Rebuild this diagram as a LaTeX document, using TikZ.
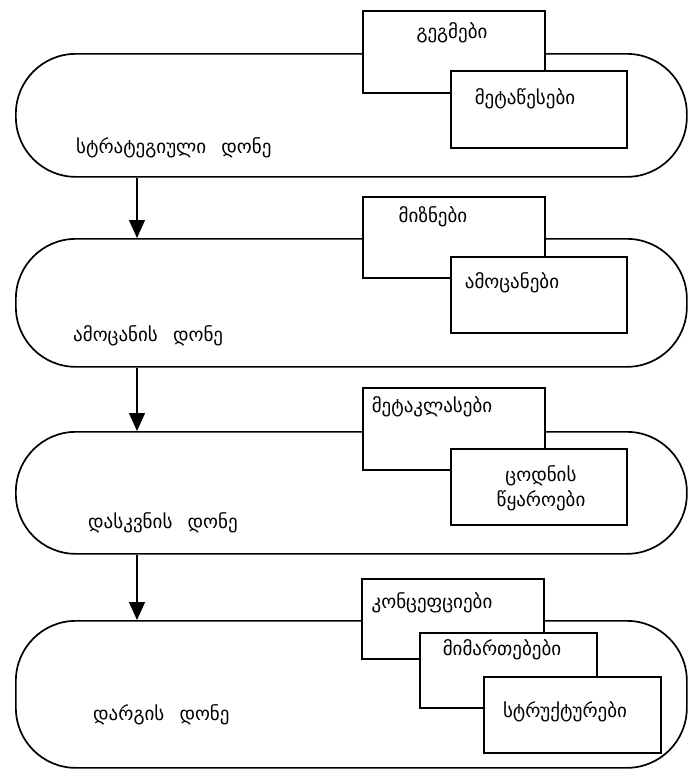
\documentclass[tikz,border=0pt]{standalone}
\usepackage{fontspec}
\setmainfont{DejaVu Sans}
\usetikzlibrary{arrows.meta}
\begin{document}
\begin{tikzpicture}[x=1pt,y=-1pt,
  lvl/.style={draw=black, line width=1.7pt, fill=white, rounded corners=60pt,
    anchor=north west, inner sep=0pt, minimum width=671pt},
  card/.style={draw=black, line width=1.7pt, fill=white, anchor=north west,
    inner sep=0pt},
  lbl/.style={font=\fontsize{19}{23}\selectfont, inner sep=0pt, align=center},
  lvltxt/.style={lbl, anchor=west},
  flow/.style={draw=black, line width=1.3pt,
    -{Triangle[width=16pt,length=18pt]}}]
\useasboundingbox (0,0) rectangle (688,769);

% levels
\node[lvl, minimum height=123pt] (s1) at (15,53) {};
\node[lvl, minimum height=128pt] (s2) at (15,238) {};
\node[lvl, minimum height=122pt] (s3) at (15,431) {};
\node[lvl, minimum height=147pt] (s4) at (15,620) {};

% cards attached to each level
\node[card, minimum width=182pt, minimum height=82pt] (b11) at (362,10) {};
\node[card, minimum width=176pt, minimum height=77pt] (b12) at (450,70) {};
\node[card, minimum width=182pt, minimum height=81pt] (b21) at (362,196) {};
\node[card, minimum width=176pt, minimum height=76pt] (b22) at (450,256) {};
\node[card, minimum width=182pt, minimum height=82pt] (b31) at (362,387) {};
\node[card, minimum width=176pt, minimum height=76pt] (b32) at (450,448) {};
\node[card, minimum width=182pt, minimum height=80pt] (b41) at (361,578) {};
\node[card, minimum width=177pt, minimum height=75pt] (b42) at (419,632) {};
\node[card, minimum width=177pt, minimum height=76pt] (b43) at (483,676) {};

% card texts
\node[lbl] (t11) at (452,33) {გეგმები};
\node[lbl] (t12) at (525,99) {მეტაწესები};
\node[lbl] (t21) at (433,217) {მიზნები};
\node[lbl] (t22) at (512,283) {ამოცანები};
\node[lbl] (t31) at (432,407) {მეტაკლასები};
\node[lbl] (t32) at (541,488) {ცოდნის\\[2pt]წყაროები};
\node[lbl] (t41) at (432,603) {კონცეფციები};
\node[lbl] (t42) at (502,650) {მიმართებები};
\node[lbl] (t43) at (565,712) {სტრუქტურები};

% level names
\node[lvltxt] (n1) at (76,148) {სტრატეგიული\hspace{0.8em}დონე};
\node[lvltxt] (n2) at (73,336) {ამოცანის\hspace{0.8em}დონე};
\node[lvltxt] (n3) at (88,523) {დასკვნის\hspace{0.8em}დონე};
\node[lvltxt] (n4) at (93,715) {დარგის\hspace{0.8em}დონე};

% flow between levels
\coordinate (ax) at (137,0);
\draw[flow] (s1.south -| ax) -- (s2.north -| ax);
\draw[flow] (s2.south -| ax) -- (s3.north -| ax);
\draw[flow] (s3.south -| ax) -- (s4.north -| ax);
\end{tikzpicture}
\end{document}
